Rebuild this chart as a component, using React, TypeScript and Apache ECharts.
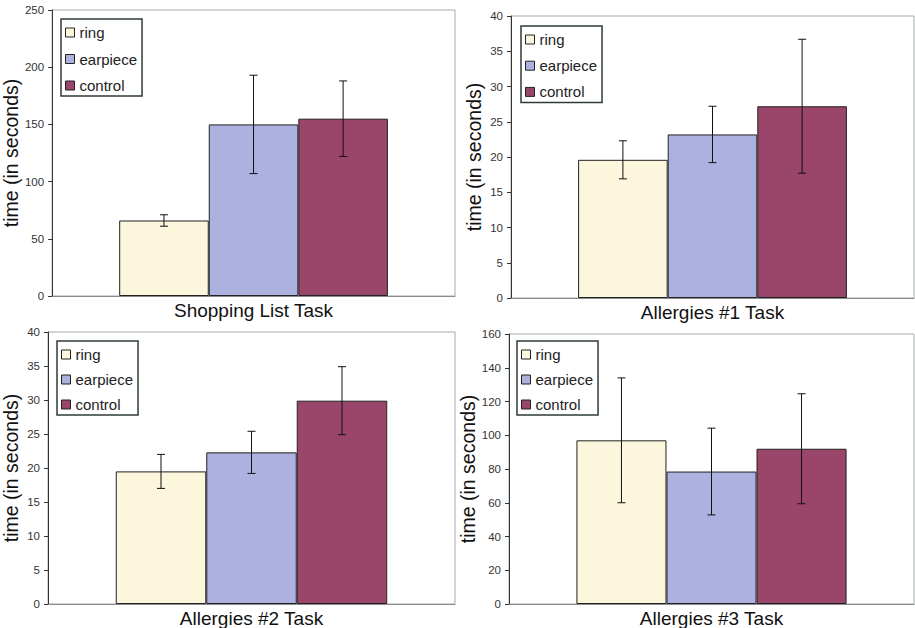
import React, { useEffect, useRef } from "react";
import * as echarts from "echarts";

const tasks = ["Shopping List Task", "Allergies #1 Task", "Allergies #2 Task", "Allergies #3 Task"];
const groups = ["ring", "earpiece", "control"];
const ringMeans = [66, 19.6, 19.5, 97];
const ringErr = [5, 2.7, 2.5, 37];
const earpieceMeans = [150, 23.2, 22.3, 78.5];
const earpieceErr = [43, 4, 3.1, 25.7];
const controlMeans = [155, 27.2, 29.9, 92];
const controlErr = [33, 9.5, 5, 32.6];
const yMax = [250, 40, 40, 160];
const yStep = [50, 5, 5, 20];

const colors = ["#FBF6DC", "#ACB1DF", "#99466A"];
const gridsPos = [
  { left: 52, top: 10, width: 403, height: 286 },
  { left: 511, top: 16, width: 403, height: 282 },
  { left: 48, top: 332, width: 407, height: 272 },
  { left: 509, top: 334, width: 405, height: 270 },
];
const legendPos = [
  { left: 61, top: 19, gap: 11.5 },
  { left: 521, top: 26, gap: 11.2 },
  { left: 57, top: 341, gap: 10 },
  { left: 517, top: 341, gap: 10 },
];
const GAP = 0.333;

export default function App() {
  const ref = useRef<HTMLDivElement>(null);
  useEffect(() => {
    if (!ref.current) return;
    const chart = echarts.init(ref.current, undefined, { renderer: "svg" });
    const means = [ringMeans, earpieceMeans, controlMeans];
    const errs = [ringErr, earpieceErr, controlErr];
    const grid: any[] = [];
    const xAxis: any[] = [];
    const yAxis: any[] = [];
    const series: any[] = [];
    const legend: any[] = [];
    tasks.forEach((task, i) => {
      grid.push({
        ...gridsPos[i],
        show: true,
        borderColor: "#a4aba8",
        borderWidth: 1,
        backgroundColor: "transparent",
      });
      xAxis.push({
        type: "category",
        gridIndex: i,
        data: [task],
        axisLine: { lineStyle: { color: "#8c8c8c", width: 1 } },
        axisTick: { show: false },
        axisLabel: { fontSize: 19, color: "#111", margin: 5 },
      });
      yAxis.push({
        type: "value",
        gridIndex: i,
        min: 0,
        max: yMax[i],
        interval: yStep[i],
        name: "time (in seconds)",
        nameLocation: "middle",
        nameRotate: 90,
        nameGap: 27,
        nameTextStyle: { fontSize: 19.5, color: "#111" },
        axisLine: { show: true, lineStyle: { color: "#333", width: 1 } },
        axisTick: { show: true, length: 4, lineStyle: { color: "#333" } },
        axisLabel: { fontSize: 11.5, color: "#333", margin: 8 },
        splitLine: { show: false },
      });
      groups.forEach((g, j) => {
        series.push({
          type: "bar",
          name: g,
          xAxisIndex: i,
          yAxisIndex: i,
          data: [means[j][i]],
          barGap: "0%",
          barCategoryGap: GAP * 100 + "%",
          itemStyle: { color: colors[j], borderColor: "#222", borderWidth: 1 },
          z: 2,
        });
      });
      series.push({
        type: "custom",
        name: "err" + i,
        xAxisIndex: i,
        yAxisIndex: i,
        z: 5,
        data: groups.map((g, j) => [0, means[j][i] - errs[j][i], means[j][i] + errs[j][i], j]),
        renderItem: (params: any, api: any) => {
          const band = api.size([1, 0])[0];
          const barW = (band * (1 - GAP)) / 3;
          const j = api.value(3);
          const lo = api.coord([api.value(0), api.value(1)]);
          const hi = api.coord([api.value(0), api.value(2)]);
          const x = lo[0] + barW * (j - 1);
          const cap = 4;
          const style = { stroke: "#111", lineWidth: 1 };
          return {
            type: "group",
            children: [
              { type: "line", shape: { x1: x, y1: lo[1], x2: x, y2: hi[1] }, style },
              { type: "line", shape: { x1: x - cap, y1: lo[1], x2: x + cap, y2: lo[1] }, style },
              { type: "line", shape: { x1: x - cap, y1: hi[1], x2: x + cap, y2: hi[1] }, style },
            ],
          };
        },
      });
      legend.push({
        data: groups,
        orient: "vertical",
        left: legendPos[i].left,
        top: legendPos[i].top,
        itemGap: legendPos[i].gap,
        itemWidth: 9,
        itemHeight: 9,
        icon: "rect",
        padding: [6, 5, 3, 4],
        borderColor: "#2f3d36",
        borderWidth: 1.5,
        backgroundColor: "#fff",
        textStyle: { fontSize: 15, color: "#222", lineHeight: 15 },
        itemStyle: { borderColor: "#222", borderWidth: 1 },
      });
    });
    chart.setOption({
      animation: false,
      textStyle: { fontFamily: "'Liberation Sans', Arial, sans-serif" },
      grid,
      xAxis,
      yAxis,
      series,
      legend,
    });
    return () => chart.dispose();
  }, []);
  return (
    <div
      ref={ref}
      style={{ position: "absolute", left: 0, top: 0, width: 915, height: 628, background: "#fff" }}
    />
  );
}
